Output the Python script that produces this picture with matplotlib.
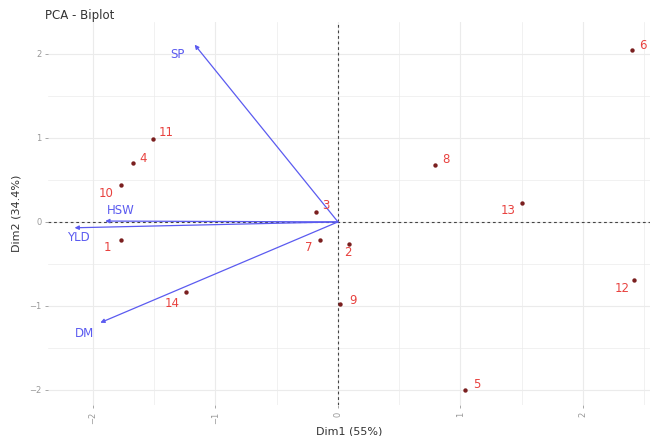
import matplotlib
matplotlib.use("Agg")
import matplotlib.pyplot as plt
import numpy as np

# Individuals (scores on Dim1 / Dim2)
ind_labels = ["1", "2", "3", "4", "5", "6", "7", "8", "9", "10", "11", "12", "13", "14"]
ind_dim1 = [-1.77, 0.09, -0.18, -1.67, 1.04, 2.40, -0.15, 0.79, 0.02, -1.77, -1.51, 2.42, 1.50, -1.24]
ind_dim2 = [-0.21, -0.26, 0.12, 0.70, -2.00, 2.05, -0.21, 0.68, -0.98, 0.44, 0.99, -0.69, 0.23, -0.83]

# Variables (loadings, scaled)
var_labels = ["SP", "HSW", "YLD", "DM"]
var_dim1 = [-1.17, -1.90, -2.15, -1.94]
var_dim2 = [2.11, 0.01, -0.07, -1.20]

ind_color = "#e8423f"
var_color = "#5b5bf0"

fig = plt.figure(figsize=(6.55, 4.36), dpi=100)
ax = fig.add_axes([48 / 655, 1 - 405 / 436, (650 - 48) / 655, (405 - 22) / 436])

ax.set_xlim(-2.367, 2.547)
ax.set_ylim(-2.18, 2.38)

# grid
for v in np.arange(-2, 2.6, 0.5):
    lw = 0.8 if float(v).is_integer() else 0.5
    ax.axvline(v, color="#ebebeb", lw=lw, zorder=0)
for v in np.arange(-2, 2.4, 0.5):
    lw = 0.8 if float(v).is_integer() else 0.5
    ax.axhline(v, color="#ebebeb", lw=lw, zorder=0)

ax.axhline(0, color="#444444", lw=0.8, ls=(0, (2.5, 2.5)), zorder=1)
ax.axvline(0, color="#444444", lw=0.8, ls=(0, (2.5, 2.5)), zorder=1)

# individuals
ax.scatter(ind_dim1, ind_dim2, s=10, color="#7a1f1f", zorder=3, linewidths=0)
offsets = {
    "1": (-0.11, -0.09), "2": (-0.01, -0.10), "3": (0.08, 0.07), "4": (0.08, 0.06),
    "5": (0.09, 0.06), "6": (0.09, 0.05), "7": (-0.09, -0.09), "8": (0.09, 0.06),
    "9": (0.10, 0.05), "10": (-0.12, -0.10), "11": (0.11, 0.08), "12": (-0.10, -0.10),
    "13": (-0.11, -0.10), "14": (-0.11, -0.14),
}
for lab, x, y in zip(ind_labels, ind_dim1, ind_dim2):
    dx, dy = offsets[lab]
    ax.text(x + dx, y + dy, lab, color=ind_color, fontsize=8.5,
            ha="center", va="center", zorder=4)

# variable arrows
for lab, x, y in zip(var_labels, var_dim1, var_dim2):
    ax.annotate("", xy=(x, y), xytext=(0, 0),
                arrowprops=dict(arrowstyle="-|>", color=var_color, lw=0.9,
                                mutation_scale=6, shrinkA=0, shrinkB=0),
                zorder=2)
var_text_pos = {
    "SP": (-1.31, 1.99), "HSW": (-1.77, 0.14), "YLD": (-2.12, -0.18), "DM": (-2.07, -1.33),
}
for lab in var_labels:
    tx, ty = var_text_pos[lab]
    ax.text(tx, ty, lab, color=var_color, fontsize=8.5, ha="center", va="center", zorder=4)

for s in ax.spines.values():
    s.set_visible(False)

ax.set_xticks([-2, -1, 0, 1, 2])
ax.set_yticks([-2, -1, 0, 1, 2])
ax.tick_params(axis="both", colors="#999999", labelsize=6, length=2.5, width=0.6)
ax.tick_params(axis="x", labelrotation=90, pad=2)
ax.tick_params(axis="y", pad=2)

ax.set_xlabel("Dim1 (55%)", fontsize=8, color="#333333", labelpad=2)
ax.set_ylabel("Dim2 (34.4%)", fontsize=8, color="#333333", labelpad=6)

fig.text(45 / 655, 1 - 16 / 436, "PCA - Biplot", fontsize=8.5, color="#333333",
         ha="left", va="center")

fig.savefig("out.png", dpi=100)
